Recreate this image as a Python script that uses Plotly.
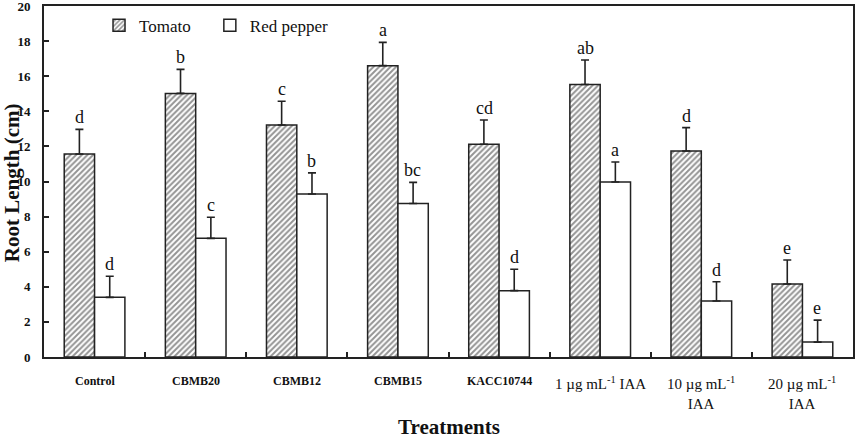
import plotly.graph_objects as go

categories = ["Control", "CBMB20", "CBMB12", "CBMB15", "KACC10744",
              "1 µg/mL IAA", "10 µg/mL IAA", "20 µg/mL IAA"]
tick_labels = [
    "<b>Control</b>",
    "<b>CBMB20</b>",
    "<b>CBMB12</b>",
    "<b>CBMB15</b>",
    "<b>KACC10744</b>",
    "1 µg mL<sup>-1</sup> IAA",
    "10 µg mL<sup>-1</sup><br>IAA",
    "20 µg mL<sup>-1</sup><br>IAA",
]
tick_label_sizes = [12, 12, 12, 12, 12, 15, 15, 15]
tomato = [11.57, 15.02, 13.22, 16.6, 12.12, 15.53, 11.74, 4.16]
tomato_err = [1.4, 1.37, 1.35, 1.33, 1.38, 1.39, 1.33, 1.37]
pepper = [3.40, 6.76, 9.29, 8.75, 3.78, 9.97, 3.19, 0.85]
pepper_err = [1.2, 1.2, 1.2, 1.2, 1.22, 1.14, 1.1, 1.25]
tomato_letters = ["d", "b", "c", "a", "cd", "ab", "d", "e"]
pepper_letters = ["d", "c", "b", "bc", "d", "a", "d", "e"]

SERIF = "Liberation Serif, Times New Roman, serif"

fig = go.Figure()
fig.add_trace(go.Bar(
    name="Tomato", x=categories, y=tomato, legend="legend",
    error_y=dict(type="data", array=tomato_err, arrayminus=[0]*len(tomato),
                 symmetric=False, color="#222", thickness=1.6, width=4),
    marker=dict(color="white", line=dict(color="#222", width=1.5),
                pattern=dict(shape="/", fgcolor="#2a2a2a", bgcolor="white",
                             size=4, solidity=0.5)),
))
fig.add_trace(go.Bar(
    name="Red pepper", x=categories, y=pepper, legend="legend2",
    error_y=dict(type="data", array=pepper_err, arrayminus=[0]*len(pepper),
                 symmetric=False, color="#222", thickness=1.6, width=4),
    marker=dict(color="white", line=dict(color="#222", width=1.5)),
))

annotations = []
for i, c in enumerate(categories):
    annotations.append(dict(x=c, y=tomato[i] + tomato_err[i], xref="x", yref="y",
                            text=tomato_letters[i], showarrow=False, xshift=-15,
                            yanchor="bottom", yshift=0,
                            font=dict(family=SERIF, size=18, color="#111")))
    annotations.append(dict(x=c, y=pepper[i] + pepper_err[i], xref="x", yref="y",
                            text=pepper_letters[i], showarrow=False, xshift=15,
                            yanchor="bottom", yshift=0,
                            font=dict(family=SERIF, size=18, color="#111")))
    annotations.append(dict(x=c, y=-0.043, xref="x", yref="paper",
                            text=tick_labels[i], showarrow=False,
                            xanchor="center", yanchor="top",
                            font=dict(family=SERIF, size=tick_label_sizes[i], color="#111")))
annotations.append(dict(x=0.5, y=-0.2, xref="paper", yref="paper",
                        text="<b>Treatments</b>", showarrow=False,
                        xanchor="center", yanchor="middle",
                        font=dict(family=SERIF, size=21, color="#111")))
annotations.append(dict(x=-0.04, y=0.497, xref="paper", yref="paper",
                        text="<b>Root Length (cm)</b>", showarrow=False, textangle=-90,
                        xanchor="center", yanchor="middle",
                        font=dict(family=SERIF, size=21, color="#111")))

leg_common = dict(orientation="h", y=0.995, xanchor="left", yanchor="top",
                  bgcolor="rgba(0,0,0,0)", font=dict(family=SERIF, size=17, color="#111"),
                  itemwidth=30)

fig.update_layout(
    width=860, height=441,
    margin=dict(l=44, r=7, t=6, b=84, autoexpand=False),
    paper_bgcolor="white", plot_bgcolor="white",
    barmode="group", bargap=0.4, bargroupgap=0,
    font=dict(family=SERIF, color="#111"),
    showlegend=True,
    legend=dict(x=0.068, **leg_common),
    legend2=dict(x=0.205, **leg_common),
    annotations=annotations,
)
fig.update_xaxes(
    tickson="boundaries", ticks="inside", ticklen=5, tickwidth=1.5, tickcolor="#222",
    showline=True, linecolor="#222", linewidth=2, mirror=True,
    showgrid=False, showticklabels=False, automargin=False,
)
fig.update_yaxes(
    range=[0, 20], dtick=2, ticks="inside", ticklen=5, tickwidth=1.5, tickcolor="#222",
    showline=True, linecolor="#222", linewidth=2, mirror=True,
    showgrid=False, zeroline=False, automargin=False, ticklabeloverflow="allow",
    tickfont=dict(family=SERIF, size=13, color="#111"), tickformat="d",
    tickprefix="<b>", ticksuffix="</b>", ticklabelstandoff=9,
)

fig.write_html("out.html")
